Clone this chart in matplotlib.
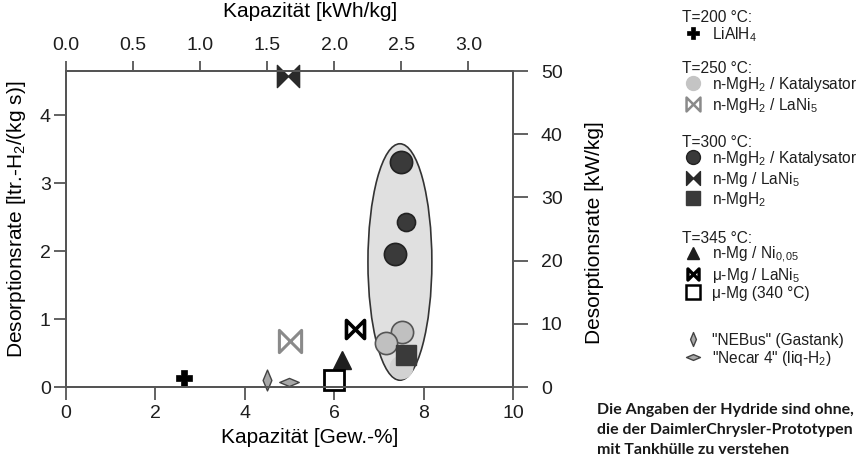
import matplotlib.pyplot as plt
from matplotlib.patches import Ellipse
from matplotlib.path import Path

plt.rcParams['font.family'] = ['Liberation Sans', 'DejaVu Sans']
plt.rcParams['mathtext.fontset'] = 'custom'
plt.rcParams['mathtext.rm'] = 'Liberation Sans'
plt.rcParams['mathtext.it'] = 'Liberation Sans:italic'
plt.rcParams['mathtext.default'] = 'regular'

# capacity [Gew.-%] and desorption rate [ltr.-H2/(kg s)]
lialh4_x, lialh4_y = [2.65], [0.13]
kat250_x = [7.51, 7.17, 7.50]
kat250_y = [0.81, 0.65, 0.29]
lani250_x, lani250_y = [5.00], [0.67]
kat300_x = [7.49, 7.60, 7.36]
kat300_y = [3.31, 2.43, 1.96]
lani300_x, lani300_y = [4.97], [4.58]
mgh2_300_x, mgh2_300_y = [7.60], [0.47]
ni345_x, ni345_y = [6.17], [0.40]
lani345_x, lani345_y = [6.47], [0.86]
mu340_x, mu340_y = [6.00], [0.10]
nebus_x, nebus_y = [4.49], [0.11]
necar_x, necar_y = [4.98], [0.07]

# highlighted region (hydrides around 7.5 %)
ell_center = (7.47, 1.84)
ell_width, ell_height = 1.43, 3.48

# unit conversions for the secondary axes
kwh_per_wt = 1 / 3.0        # 1 Gew.-% H2 = 0.333 kWh/kg
kw_per_ltr = 10.75          # 1 ltr.-H2/(kg s) ~ 10.75 kW/kg

legend_groups = [
    ('T=200 °C:', [r'LiAlH$_4$']),
    ('T=250 °C:', [r'n-MgH$_2$ / Katalysator', r'n-MgH$_2$ / LaNi$_5$']),
    ('T=300 °C:', [r'n-MgH$_2$ / Katalysator', r'n-Mg / LaNi$_5$', r'n-MgH$_2$']),
    ('T=345 °C:', [r'n-Mg / Ni$_{0,05}$', r'μ-Mg / LaNi$_5$', 'μ-Mg (340 °C)']),
    ('', ['"NEBus" (Gastank)', r'"Necar 4" (liq-H$_2$)']),
]
note_lines = ['Die Angaben der Hydride sind ohne,',
              'die der DaimlerChrysler-Prototypen',
              'mit Tankhülle zu verstehen']

# custom marker shapes
bow = Path([(-1, -1), (-1, 1), (0, 0), (1, 1), (1, -1), (0, 0), (-1, -1)],
           [Path.MOVETO] + [Path.LINETO] * 5 + [Path.CLOSEPOLY])
tall_dia = Path([(0, 1), (0.42, 0), (0, -1), (-0.42, 0), (0, 1)],
                [Path.MOVETO] + [Path.LINETO] * 3 + [Path.CLOSEPOLY])
flat_dia = Path([(1, 0), (0, 0.42), (-1, 0), (0, -0.42), (1, 0)],
                [Path.MOVETO] + [Path.LINETO] * 3 + [Path.CLOSEPOLY])

styles = [
    dict(marker='P', ms=9, mfc='black', mec='black', mew=0.5),
    dict(marker='o', ms=10, mfc='#c4c4c4', mec='#c4c4c4', mew=1),
    dict(marker=bow, ms=10, mfc='none', mec='#8a8a8a', mew=1.8),
    dict(marker='o', ms=10, mfc='#3a3a3a', mec='#222222', mew=1),
    dict(marker=bow, ms=10, mfc='#2a2a2a', mec='#2a2a2a', mew=1),
    dict(marker='s', ms=10, mfc='#3a3a3a', mec='#3a3a3a', mew=1),
    dict(marker='^', ms=9, mfc='#1e1e1e', mec='#1e1e1e', mew=1),
    dict(marker=bow, ms=8, mfc='none', mec='black', mew=2.4),
    dict(marker='s', ms=10, mfc='white', mec='black', mew=1.8),
    dict(marker=tall_dia, ms=10, mfc='#a8a8a8', mec='#444444', mew=1),
    dict(marker=flat_dia, ms=10, mfc='#a8a8a8', mec='#444444', mew=1),
]

axc = '#555555'
fig = plt.figure(figsize=(8.66, 4.61), dpi=100)
ax = fig.add_axes([66 / 866, 1 - 387 / 461, 447 / 866, 316 / 461])

ax.add_patch(Ellipse(ell_center, ell_width, ell_height, facecolor='#e0e0e0',
                     edgecolor='#333333', lw=1.2, zorder=1))

ax.plot(lialh4_x, lialh4_y, ls='none', zorder=3, clip_on=False, **dict(styles[0], ms=11))
kat_fc = ['#c0c0c0', '#c0c0c0', '#d2d2d2']
kat_ec = ['#555555', '#555555', '#d2d2d2']
for x, y, fc, ec in zip(kat250_x, kat250_y, kat_fc, kat_ec):
    ax.plot([x], [y], ls='none', marker='o', ms=16, mfc=fc, mec=ec, mew=1.2, zorder=3)
ax.plot(lani250_x, lani250_y, ls='none', zorder=3,
        **dict(styles[2], ms=16, mew=2.2))
kat300_ms = [16, 13, 16]
for x, y, ms in zip(kat300_x, kat300_y, kat300_ms):
    ax.plot([x], [y], ls='none', marker='o', ms=ms, mfc='#3a3a3a', mec='#222222',
            mew=1.2, zorder=3)
ax.plot(lani300_x, lani300_y, ls='none', zorder=5, clip_on=False,
        **dict(styles[4], ms=16))
ax.plot(mgh2_300_x, mgh2_300_y, ls='none', zorder=4, **dict(styles[5], ms=14))
ax.plot(ni345_x, ni345_y, ls='none', zorder=3, **dict(styles[6], ms=13))
ax.plot(lani345_x, lani345_y, ls='none', zorder=3, **dict(styles[7], ms=13, mew=2.6))
ax.plot(mu340_x, mu340_y, ls='none', zorder=5, clip_on=False,
        **dict(styles[8], ms=15, mew=2))
ax.plot(nebus_x, nebus_y, ls='none', zorder=3, clip_on=False, **dict(styles[9], ms=15))
ax.plot(necar_x, necar_y, ls='none', zorder=3, clip_on=False, **dict(styles[10], ms=14))

ax.set_xlim(0, 10)
ax.set_ylim(0, 50 / kw_per_ltr)
ax.set_xticks([0, 2, 4, 6, 8, 10])
ax.set_yticks([0, 1, 2, 3, 4])
ax.set_xlabel('Kapazität [Gew.-%]', fontsize=15)
ax.set_ylabel(r'Desorptionsrate [ltr.-H$_2$/(kg s)]', fontsize=15)
ax.xaxis.set_label_coords(0.546, -0.13)
ax.yaxis.set_label_coords(-0.085, 0.53)

axt = ax.twiny()
axt.set_xlim(0, 10 * kwh_per_wt)
axt.set_xticks([0.0, 0.5, 1.0, 1.5, 2.0, 2.5, 3.0])
axt.set_xticklabels(['0.0', '0.5', '1.0', '1.5', '2.0', '2.5', '3.0'])
axt.set_xlabel('Kapazität [kWh/kg]', fontsize=15)
axt.xaxis.set_label_coords(0.546, 1.17)

axr = ax.twinx()
axr.set_ylim(0, 50)
axr.set_yticks([0, 10, 20, 30, 40, 50])
axr.set_ylabel('Desorptionsrate [kW/kg]', fontsize=15)
axr.yaxis.set_label_coords(1.16, 0.49)

for a in (ax, axt, axr):
    for s in a.spines.values():
        s.set_color(axc)
        s.set_linewidth(1.3)
    a.tick_params(direction='out', length=9, width=1.3, color=axc,
                  labelsize=14, labelcolor='#1e1e1e', pad=2)
axr.tick_params(axis='y', length=11, pad=9)
axt.tick_params(axis='x', length=7, pad=5)
ax.tick_params(axis='x', pad=4)

# legend drawn in pixel coordinates
lax = fig.add_axes([0, 0, 1, 1])
lax.set_xlim(0, 866)
lax.set_ylim(461, 0)
lax.axis('off')
header_y = [16, 67, 141, 237, None]
row_y = [[33], [83, 104], [157, 178, 198], [253, 274, 292], [339, 357]]
k = 0
for (head, labels), hy, ys in zip(legend_groups, header_y, row_y):
    if head:
        lax.text(682, hy + 6, head, fontsize=11.2, va='baseline', ha='left', color='#1e1e1e')
    for lab, y in zip(labels, ys):
        lax.plot([693], [y], ls='none', **styles[k])
        lax.text(712, y + 6, lab, fontsize=11.2, va='baseline', ha='left', color='#1e1e1e')
        k += 1

for i, line in enumerate(note_lines):
    lax.text(597, 414 + 20 * i, line, fontsize=11.5, fontfamily='Lato',
             fontweight='bold', va='baseline', ha='left', color='#1a1a1a')

plt.savefig('out.png', dpi=100)
